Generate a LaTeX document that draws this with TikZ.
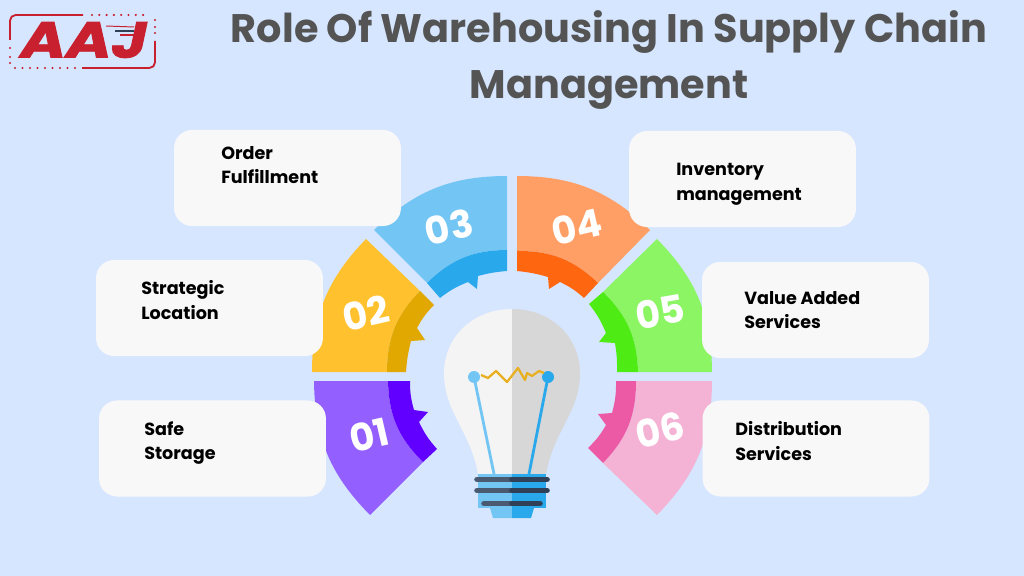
\documentclass[tikz,border=0pt]{standalone}
\usepackage{fontspec}
\setmainfont{Poppins}
\newfontfamily\logofont[BoldItalicFeatures={FakeBold=1.6}]{Poppins}
\usepackage{xcolor}
\usetikzlibrary{positioning}
\definecolor{bgblue}{HTML}{D6E6FF}
\definecolor{cardgray}{HTML}{F8F8F8}
\definecolor{titlegray}{HTML}{545454}
\definecolor{aajred}{HTML}{C8202F}
\definecolor{oneL}{HTML}{9360FF}
\definecolor{oneD}{HTML}{6200FF}
\definecolor{twoL}{HTML}{FFC12E}
\definecolor{twoD}{HTML}{E0A800}
\definecolor{threeL}{HTML}{73C6F4}
\definecolor{threeD}{HTML}{29A9EC}
\definecolor{fourL}{HTML}{FF9F66}
\definecolor{fourD}{HTML}{FF6610}
\definecolor{fiveL}{HTML}{8BF564}
\definecolor{fiveD}{HTML}{4FEB14}
\definecolor{sixL}{HTML}{F4B2D4}
\definecolor{sixD}{HTML}{EC5AA6}
\definecolor{bulbL}{HTML}{F4F4F4}
\definecolor{bulbD}{HTML}{D7D7D7}
\definecolor{barL}{HTML}{4A5A70}
\definecolor{barD}{HTML}{2F4057}
\definecolor{wire}{HTML}{E8B020}

\begin{document}
\begin{tikzpicture}[x=0.025cm,y=-0.025cm,
  card/.style={fill=cardgray,rounded corners=0.45cm,minimum width=5.67cm,minimum height=2.4cm,inner sep=0pt},
  lbl/.style={anchor=west,align=left,inner sep=0pt,font=\fontsize{12.5}{17.5}\selectfont\bfseries,text=black},
  num/.style={inner sep=0pt,font=\fontsize{27}{27}\selectfont\bfseries,text=white},
  ttl/.style={align=center,font=\fontsize{28.3}{39.8}\selectfont\bfseries,text=titlegray},
  dot/.style={fill=aajred,draw=none}
]
\useasboundingbox (0,0) rectangle (1024,576);
\fill[bgblue] (0,0) rectangle (1024,576);

% Title
\node[ttl] (title) at (609,60) {Role Of Warehousing In Supply Chain\\Management};

% Logo
\draw[aajred,line width=1.3pt,rounded corners=4pt] (83,15) -- (10,15) -- (10,40);
\draw[aajred,line width=1.3pt,rounded corners=4pt] (82,68) -- (155,68) -- (155,41);
\foreach \x in {92,99.3,...,150} \fill[dot] (\x,15) circle (1.2);
\foreach \x in {15,22.5,...,76} \fill[dot] (\x,68) circle (1.2);
\foreach \y in {48,57,63} \fill[dot] (10,\y) circle (1.2);
\foreach \y in {20,27,33} \fill[dot] (155,\y) circle (1.2);
\node[font=\fontsize{36}{36}\selectfont\logofont\bfseries\itshape,text=aajred,xscale=1.22] (logo) at (84,40) {AAJ};
\draw[aajred,line width=0.7pt] (106,26) -- (134,27);
\draw[barD,line width=0.9pt] (115,31) -- (134,31);
\draw[aajred,line width=0.8pt] (120,35) -- (134,35);

% Segment 01
\fill[oneL] (314,381) to[bend right=22] (370,515) -- (423,462) to[bend left=22] (388,381) -- cycle;
\fill[oneD] (388,381) -- (410,381) to[bend right=8] (414,410) -- (428,412) -- (419,422) to[bend right=8] (437,449) -- (423,462) to[bend left=22] (388,381) -- cycle;

% Segment 02
\fill[twoL] (312,372) to[bend left=22] (366,239) -- (420,291) to[bend right=22] (387,372) -- cycle;
\fill[twoD] (420,291) -- (434,305) to[bend right=8] (417,328) -- (425,340) -- (411,341) to[bend right=5] (406,372) -- (387,372) to[bend left=22] (420,291) -- cycle;

% Segment 03
\fill[threeL] (507,176) to[bend right=22] (374,230) -- (427,283) to[bend left=22] (507,250) -- cycle;
\fill[threeD] (507,250) -- (507,271) to[bend right=5] (478,276) -- (477,289) -- (468,282) to[bend right=8] (440,298) -- (427,283) to[bend left=22] (507,250) -- cycle;

% Segment 04
\fill[fourL] (517,176) to[bend left=22] (650,230) -- (598,283) to[bend right=22] (517,251) -- cycle;
\fill[fourD] (517,251) -- (517,271) to[bend left=5] (548,277) -- (549,289) -- (560,282) to[bend left=8] (584,298) -- (598,283) to[bend right=22] (517,251) -- cycle;

% Segment 05
\fill[fiveL] (657,239) to[bend left=22] (712,372) -- (638,372) to[bend right=22] (603,292) -- cycle;
\fill[fiveD] (603,292) -- (589,304) to[bend left=8] (606,333) -- (599,342) -- (615,343) to[bend left=5] (617,372) -- (638,372) to[bend right=22] (603,292) -- cycle;

% Segment 06
\fill[sixL] (712,381) to[bend left=22] (657,515) -- (603,463) to[bend right=22] (636,381) -- cycle;
\fill[sixD] (636,381) -- (616,381) to[bend left=8] (612,413) -- (598,414) -- (606,425) to[bend left=8] (588,448) -- (603,463) to[bend right=22] (636,381) -- cycle;

% Cards
\node[card] (c1) at (212.5,448.5) {};
\node[card] (c2) at (209.5,308) {};
\node[card] (c3) at (287.5,178) {};
\node[card] (c4) at (742.5,179) {};
\node[card] (c5) at (815.5,310) {};
\node[card] (c6) at (816,448.5) {};

% Card labels
\node[lbl] (t1) at (144,443) {Safe\\Storage};
\node[lbl] (t2) at (141,300) {Strategic\\Location};
\node[lbl] (t3) at (221,165) {Order\\Fulfillment};
\node[lbl] (t4) at (676,184) {Inventory\\management};
\node[lbl] (t5) at (744,310) {Value Added\\Services};
\node[lbl] (t6) at (735,441) {Distribution\\Services};

% Numbers
\node[num,rotate=13] (n1) at (369,435) {01};
\node[num,rotate=13] (n2) at (366,313) {02};
\node[num,rotate=13] (n3) at (449,227) {03};
\node[num,rotate=13] (n4) at (577,227) {04};
\node[num,rotate=10] (n5) at (660,312) {05};
\node[num,rotate=13] (n6) at (660,430) {06};

% Bulb
\fill[bulbL] (512,309) .. controls (472,309) and (444,338) .. (444,373) .. controls (444,412) and (470,430) .. (478,474) -- (512,474) -- cycle;
\fill[bulbD] (512,309) .. controls (552,309) and (580,338) .. (580,373) .. controls (580,412) and (554,430) .. (546,474) -- (512,474) -- cycle;
\draw[threeL,line width=2pt] (474,377) -- (494,474);
\draw[threeD,line width=2pt] (548,377) -- (529,474);
\fill[threeL] (474,377) circle (6);
\fill[threeD] (548,377) circle (6);
\draw[wire,line width=1.6pt,line join=round] (481,375) -- (488,378) -- (496,371) -- (507,382) -- (518,368) -- (525,380) -- (527,373) -- (532,376) -- (539,371) -- (544,373);

% Base
\fill[threeL] (478,474) rectangle (512,508);
\fill[threeD] (512,474) rectangle (546,508);
\fill[threeL] (490,508) -- (493,518) -- (512,518) -- (512,508) -- cycle;
\fill[threeD] (534,508) -- (531,518) -- (512,518) -- (512,508) -- cycle;
\foreach \y/\xa/\xb in {479.5/477/547, 490.5/477/547, 503.5/484/540} {
  \draw[barL,line width=4pt,line cap=round] (\xa,\y) -- (511,\y);
  \draw[barD,line width=4pt,line cap=round] (512,\y) -- (\xb,\y);
}
\end{tikzpicture}
\end{document}
